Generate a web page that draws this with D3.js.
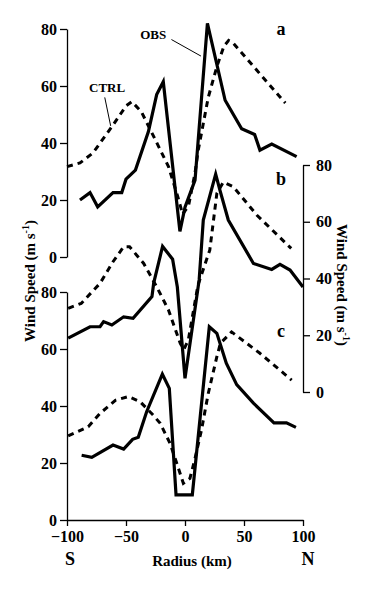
<!DOCTYPE html>
<html><head><meta charset="utf-8">
<script src="https://cdn.jsdelivr.net/npm/d3@7"></script>
<style>body{margin:0;background:#fff}svg{display:block}text{font-family:"Liberation Serif","Times New Roman",serif;font-weight:bold;fill:#000}</style>
</head><body><svg id="c" width="369" height="600"></svg>
<script>
// Panel a
const aObsR = [-89,-80.5,-74,-61,-53.6,-50,-42,-31,-24,-18.4,-4.3,0,8.5,19,34,48,59,63.5,73.5,94.6];
const aObsV = [20,22.6,17.6,22.6,22.6,27.3,30.5,44,57,61.5,9,17.5,27,82,55,45,43,37.5,39.6,35.2];
const aCtrlR = [-100,-89,-78,-61,-50,-45,-37,-25,-14,-6,-2,3,8.5,11,19.7,27,33,37,41,60.7,85];
const aCtrlV = [31.7,33,36.5,46.3,53,54.5,51,41,31.7,21,15,18,29.5,37,56,66.8,74,76,75,65.6,54];
// Panel b (right axis)
const bObsR = [-99,-80.5,-72,-69,-62,-52,-44,-28,-26.5,-19,-10.5,-6.5,0,12,15.5,26,29.7,36.7,58,73.5,80.5,89,100];
const bObsV = [19,23,23,24.8,23.6,26.5,26,33.6,38.5,51.3,46.8,37,4.8,39.5,60.6,76.8,71,60.6,45.3,43.2,45,43,37];
const bCtrlR = [-99,-88,-72,-61,-52,-47,-35,-24,-14,-4,-1,2.8,11,21,27,32.5,41,61,90];
const bCtrlV = [29.5,31.2,38.3,45.9,51.2,51.2,45.3,37.1,28.9,17.1,15,18.3,37.7,50,70,74,72.3,62.3,50.6];
// Panel c
const cObsR = [-87.6,-79,-61,-52,-44.4,-39.6,-32.5,-19.2,-13.3,-7.6,6.2,20.6,27,35,43.8,58,75.4,86,94];
const cObsV = [22.7,22,26.3,24.9,28.3,29,38,51.2,46.2,8.8,8.8,67.8,65.5,55,47.5,41,34.1,34.1,32.5];
const cCtrlR = [-99,-82,-72,-59,-48,-38,-27,-21,-12.7,-7,-1.4,4.2,8.5,14,19.7,27,30,39.5,63.5,90.4];
const cCtrlV = [29.5,32.7,37.4,42,43.3,41.5,36.8,33.9,26.9,19.9,12.9,14.6,21.6,31.6,44.4,57.3,62,66,58.5,49.1];
// Axes ticks
const yTicks = [0,20,40,60,80];
const xTicks = [-100,-50,0,50,100];
const panelLetters = ["a","b","c"];

const svg = d3.select("#c");
svg.append("rect").attr("width",369).attr("height",600).attr("fill","#fff");

const x = d3.scaleLinear().domain([-100,100]).range([67,303]);
const yA = d3.scaleLinear().domain([0,80]).range([257,29]);
const yB = d3.scaleLinear().domain([0,80]).range([392,165]);
const yC = d3.scaleLinear().domain([0,80]).range([520,292]);

function styleAxis(g){
  g.selectAll("path,line").attr("stroke","#000").attr("stroke-width",1.3);
  g.selectAll("text").attr("font-size",16).attr("font-family","Liberation Serif, serif").attr("font-weight","bold");
}
svg.append("g").attr("transform","translate(67,0)")
  .call(d3.axisLeft(yA).tickValues(yTicks).tickSize(7).tickSizeOuter(0).tickPadding(3)).call(styleAxis);
svg.append("g").attr("transform","translate(67,0)")
  .call(d3.axisLeft(yC).tickValues(yTicks).tickSize(7).tickSizeOuter(0).tickPadding(3)).call(styleAxis);
svg.append("g").attr("transform","translate(303,0)")
  .call(d3.axisRight(yB).tickValues(yTicks).tickSize(7).tickSizeOuter(0).tickPadding(6)).call(styleAxis);
svg.append("g").attr("transform","translate(0,520)")
  .call(d3.axisBottom(x).tickValues(xTicks).tickSize(6).tickSizeOuter(0).tickPadding(5)).call(styleAxis);

function draw(R,V,y,dashed){
  const line = d3.line().x((d,i)=>x(R[i])).y((d,i)=>y(V[i]));
  svg.append("path").datum(V).attr("d",line).attr("fill","none").attr("stroke","#000")
    .attr("stroke-width",dashed?3:3.2).attr("stroke-linejoin","miter")
    .attr("stroke-dasharray",dashed?"6,5":null);
}
draw(aCtrlR,aCtrlV,yA,true);
draw(aObsR,aObsV,yA,false);
draw(bCtrlR,bCtrlV,yB,true);
draw(bObsR,bObsV,yB,false);
draw(cCtrlR,cCtrlV,yC,true);
draw(cObsR,cObsV,yC,false);

// panel letters
const letterY = [yA(78), yB(80)+20, yC(80)+45];
panelLetters.forEach((l,i)=>{
  svg.append("text").attr("x",281).attr("y",letterY[i]).attr("text-anchor","middle")
    .attr("font-size",18).text(l);
});

// annotations
svg.append("text").attr("x",x(-27)).attr("y",yA(76.5)).attr("text-anchor","middle").attr("font-size",13).text("OBS");
svg.append("line").attr("x1",x(-11.5)).attr("y1",yA(76.3)).attr("x2",x(13.5)).attr("y2",yA(70.5)).attr("stroke","#000").attr("stroke-width",1);
svg.append("text").attr("x",x(-66)).attr("y",yA(58)).attr("text-anchor","middle").attr("font-size",13).text("CTRL");
svg.append("line").attr("x1",x(-68)).attr("y1",yA(56)).attr("x2",x(-63)).attr("y2",yA(46)).attr("stroke","#000").attr("stroke-width",1);

// axis titles
const lt = svg.append("text").attr("transform","translate(35,281) rotate(-90)").attr("text-anchor","middle").attr("font-size",15);
lt.append("tspan").text("Wind Speed (m s");
lt.append("tspan").attr("font-size",10).attr("dy",-6).text("-1");
lt.append("tspan").attr("dy",6).text(")");
const rt = svg.append("text").attr("transform","translate(337,285) rotate(90)").attr("text-anchor","middle").attr("font-size",15);
rt.append("tspan").text("Wind Speed (m s");
rt.append("tspan").attr("font-size",10).attr("dy",-6).text("-1");
rt.append("tspan").attr("dy",6).text(")");

svg.append("text").attr("x",192).attr("y",566).attr("text-anchor","middle").attr("font-size",15).text("Radius (km)");
svg.append("text").attr("x",x(-100)+3).attr("y",565).attr("text-anchor","middle").attr("font-size",18).text("S");
svg.append("text").attr("x",x(100)+5).attr("y",565).attr("text-anchor","middle").attr("font-size",18).text("N");
</script></body></html>
